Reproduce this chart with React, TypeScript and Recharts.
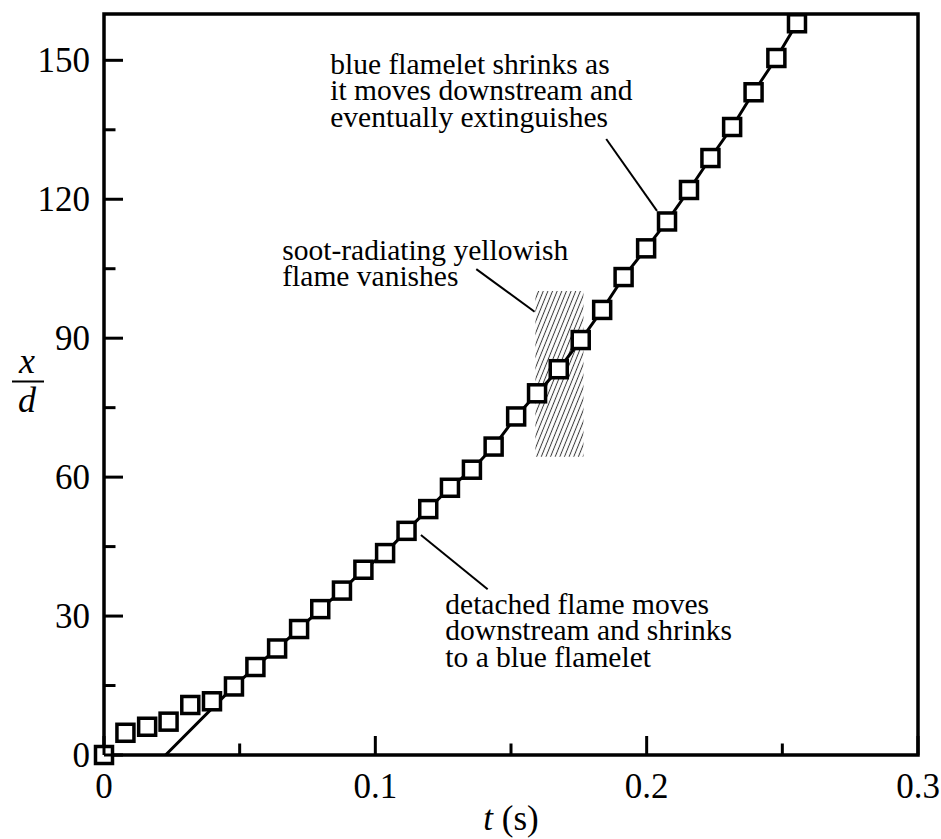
import {
  ComposedChart,
  Line,
  Scatter,
  XAxis,
  YAxis,
  ReferenceArea,
  ReferenceLine,
  ReferenceDot,
} from "recharts";

const SERIF = '"Liberation Serif", "Times New Roman", Times, serif';
const INK = "#000";
const serifStyle = { fontFamily: SERIF };

// Frame times t (s) and flame-front positions x/d
const FRAME_TIMES = [
  0, 0.0079, 0.0159, 0.0238, 0.0318, 0.0398, 0.0479, 0.0558, 0.0638, 0.0719,
  0.0797, 0.0877, 0.0956, 0.1036, 0.1115, 0.1195, 0.1275, 0.1356, 0.1436,
  0.1519, 0.1596, 0.1676, 0.1757, 0.1836, 0.1915, 0.1998, 0.2075, 0.2156,
  0.2235, 0.2315, 0.2394, 0.2478, 0.2554,
];
const FRONT_POSITIONS = [
  0, 4.8, 6.1, 7.2, 10.8, 11.6, 14.8, 19.0, 23.0, 27.2, 31.5, 35.5, 40.0, 43.6,
  48.4, 53.1, 57.7, 61.6, 66.6, 73.1, 78.1, 83.3, 89.6, 96.1, 103.2, 109.4,
  115.2, 122.0, 128.9, 135.6, 143.1, 150.5, 158.0,
];

// The fitted line starts on the t axis and then runs through the later frames
const FIT_ORIGIN_TIME = 0.0227;
const FIT_FIRST_FRAME = 6;

const T_DOMAIN: [number, number] = [0, 0.3];
const X_DOMAIN: [number, number] = [0, 160];
const T_TICKS = [0, 0.05, 0.1, 0.15, 0.2, 0.25, 0.3];
const T_TICK_LABELS = ["0", "", "0.1", "", "0.2", "", "0.3"];
const X_TICKS = [0, 15, 30, 45, 60, 75, 90, 105, 120, 135, 150];
const X_TICK_LABELS = ["0", "", "30", "", "60", "", "90", "", "120", "", "150"];

// Shaded interval where the sooty flame disappears
const SOOT_BAND = { t1: 0.159, t2: 0.1767, x1: 64.4, x2: 100.2 };

// Callout text (anchored at the first baseline, left edge) and leader lines
const NOTE_ANCHORS = [
  { t: 0.0834, x: 147.1 },
  { t: 0.0657, x: 106.9 },
  { t: 0.1258, x: 30.45 },
];
const NOTE_LINES = [
  ["blue flamelet shrinks as", "it moves downstream and", "eventually extinguishes"],
  ["soot-radiating yellowish", "flame vanishes"],
  ["detached flame moves", "downstream and shrinks", "to a blue flamelet"],
];
const LEADERS = [
  [
    { x: 0.1851, y: 133.0 },
    { x: 0.2038, y: 117.5 },
  ],
  [
    { x: 0.1372, y: 104.9 },
    { x: 0.1587, y: 95.7 },
  ],
  [
    { x: 0.1168, y: 47.5 },
    { x: 0.1414, y: 35.8 },
  ],
];

const samples = FRAME_TIMES.map((t, i) => ({ t, x: FRONT_POSITIONS[i] }));
const fitLine = [
  { t: FIT_ORIGIN_TIME, x: 0 },
  ...samples.slice(FIT_FIRST_FRAME),
];

const MAJOR_TICK = 19;
const MINOR_TICK = 11.5;
const TICK_FONT = 35;
const NOTE_FONT = 29.5;
const NOTE_LEADING = 26.5;

function tickLabel(ticks: number[], labels: string[], value: number) {
  const i = ticks.findIndex((v) => Math.abs(v - value) < 1e-9);
  return i < 0 ? "" : labels[i];
}

// Inward ticks on each side of the frame; labels only on bottom and left
const BottomTick = (props: any) => {
  const { x, y, payload } = props;
  const label = tickLabel(T_TICKS, T_TICK_LABELS, payload.value);
  const len = label ? MAJOR_TICK : MINOR_TICK;
  return (
    <g>
      <line x1={x} y1={y} x2={x} y2={y - len} stroke={INK} strokeWidth={3} />
      {label && (
        <text
          x={x}
          y={y + 43}
          textAnchor="middle"
          style={serifStyle}
          fontSize={TICK_FONT}
          fill={INK}
        >
          {label}
        </text>
      )}
    </g>
  );
};

const TopTick = (props: any) => {
  const { x, y, payload } = props;
  const label = tickLabel(T_TICKS, T_TICK_LABELS, payload.value);
  const len = label ? MAJOR_TICK : MINOR_TICK;
  return <line x1={x} y1={y} x2={x} y2={y + len} stroke={INK} strokeWidth={3} />;
};

const LeftTick = (props: any) => {
  const { x, y, payload } = props;
  const label = tickLabel(X_TICKS, X_TICK_LABELS, payload.value);
  const len = label ? MAJOR_TICK : MINOR_TICK;
  return (
    <g>
      <line x1={x} y1={y} x2={x + len} y2={y} stroke={INK} strokeWidth={3} />
      {label && (
        <text
          x={x - 14}
          y={y + 12}
          textAnchor="end"
          style={serifStyle}
          fontSize={TICK_FONT}
          fill={INK}
        >
          {label}
        </text>
      )}
    </g>
  );
};

const RightTick = (props: any) => {
  const { x, y, payload } = props;
  const label = tickLabel(X_TICKS, X_TICK_LABELS, payload.value);
  const len = label ? MAJOR_TICK : MINOR_TICK;
  return <line x1={x} y1={y} x2={x - len} y2={y} stroke={INK} strokeWidth={3} />;
};

const SquareMarker = (props: any) => {
  const { cx, cy } = props;
  if (cx == null || cy == null) return null;
  return (
    <rect
      x={cx - 8.5}
      y={cy - 8.5}
      width={17}
      height={17}
      fill="#fff"
      stroke={INK}
      strokeWidth={3.5}
    />
  );
};

function noteLabel(lines: string[]) {
  return (props: any) => {
    const vb = props.viewBox ?? {};
    const x = vb.x ?? 0;
    const y = vb.y ?? 0;
    return (
      <text x={x} y={y} style={serifStyle} fontSize={NOTE_FONT} fill={INK}>
        {lines.map((line, i) => (
          <tspan key={line} x={x} dy={i === 0 ? 0 : NOTE_LEADING}>
            {line}
          </tspan>
        ))}
      </text>
    );
  };
}

const FractionLabel = (props: any) => {
  const vb = props.viewBox ?? { x: 0, y: 14, width: 104, height: 741 };
  const cx = vb.x + 28;
  const cy = vb.y + vb.height / 2 - 3;
  return (
    <g style={serifStyle} fontSize={36} fontStyle="italic" fill={INK}>
      <text x={cx - 1} y={cy - 9} textAnchor="middle" style={serifStyle}>
        x
      </text>
      <line x1={cx - 16} y1={cy} x2={cx + 16} y2={cy} stroke={INK} strokeWidth={2} />
      <text x={cx - 1} y={cy + 30} textAnchor="middle" style={serifStyle}>
        d
      </text>
    </g>
  );
};

const TimeLabel = (props: any) => {
  const vb = props.viewBox ?? { x: 104, y: 755, width: 814, height: 84 };
  return (
    <text
      x={vb.x + vb.width / 2}
      y={vb.y + 75}
      textAnchor="middle"
      style={serifStyle}
      fontSize={TICK_FONT}
      fill={INK}
    >
      <tspan fontStyle="italic">t</tspan> (s)
    </text>
  );
};

export default function App() {
  return (
    <div
      style={{
        position: "absolute",
        left: 0,
        top: 0,
        background: "#fff",
        fontFamily: SERIF,
      }}
    >
      <ComposedChart
        width={941}
        height={839}
        margin={{ top: 14, right: 23, bottom: 0, left: 0 }}
        style={serifStyle}
      >
        <defs>
          <pattern
            id="soot-hatch"
            patternUnits="userSpaceOnUse"
            width={4.3}
            height={12}
            patternTransform="rotate(22)"
          >
            <line x1={2.15} y1={0} x2={2.15} y2={12} stroke="#3a3a3a" strokeWidth={1} />
          </pattern>
        </defs>
        <XAxis
          dataKey="t"
          type="number"
          domain={T_DOMAIN}
          ticks={T_TICKS}
          interval={0}
          height={84}
          axisLine={false}
          tickLine={false}
          tickSize={0}
          tickMargin={0}
          tick={<BottomTick />}
          label={{ content: (p: any) => <TimeLabel {...p} /> }}
        />
        <XAxis
          xAxisId="top"
          orientation="top"
          type="number"
          domain={T_DOMAIN}
          ticks={T_TICKS}
          interval={0}
          height={0}
          axisLine={false}
          tickLine={false}
          tickSize={0}
          tickMargin={0}
          tick={<TopTick />}
        />
        <YAxis
          dataKey="x"
          type="number"
          domain={X_DOMAIN}
          ticks={X_TICKS}
          interval={0}
          width={104}
          axisLine={false}
          tickLine={false}
          tickSize={0}
          tickMargin={0}
          tick={<LeftTick />}
          label={{ content: (p: any) => <FractionLabel {...p} /> }}
        />
        <YAxis
          yAxisId="right"
          orientation="right"
          type="number"
          domain={X_DOMAIN}
          ticks={X_TICKS}
          interval={0}
          width={0}
          axisLine={false}
          tickLine={false}
          tickSize={0}
          tickMargin={0}
          tick={<RightTick />}
        />
        <ReferenceArea
          x1={SOOT_BAND.t1}
          x2={SOOT_BAND.t2}
          y1={SOOT_BAND.x1}
          y2={SOOT_BAND.x2}
          fill="url(#soot-hatch)"
          fillOpacity={1}
          stroke="none"
        />
        <ReferenceArea
          x1={T_DOMAIN[0]}
          x2={T_DOMAIN[1]}
          y1={X_DOMAIN[0]}
          y2={X_DOMAIN[1]}
          fill="none"
          stroke={INK}
          strokeWidth={3.5}
        />
        {LEADERS.map((seg, i) => (
          <ReferenceLine key={i} segment={seg} stroke={INK} strokeWidth={2} />
        ))}
        {NOTE_ANCHORS.map((a, i) => (
          <ReferenceDot
            key={i}
            x={a.t}
            y={a.x}
            r={0}
            fill="none"
            stroke="none"
            label={noteLabel(NOTE_LINES[i])}
          />
        ))}
        <Line
          data={fitLine}
          dataKey="x"
          type="linear"
          stroke={INK}
          strokeWidth={3}
          dot={false}
          activeDot={false}
          isAnimationActive={false}
        />
        <Scatter
          data={samples}
          dataKey="x"
          shape={<SquareMarker />}
          isAnimationActive={false}
        />
      </ComposedChart>
    </div>
  );
}
